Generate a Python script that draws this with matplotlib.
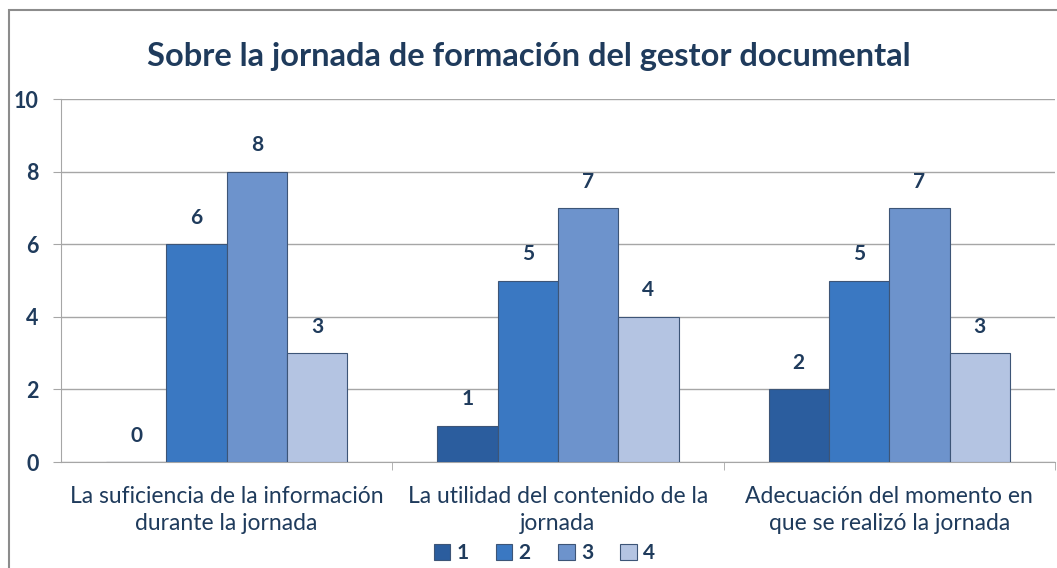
import numpy as np
import matplotlib.pyplot as plt
from matplotlib.patches import Rectangle

plt.rcParams['font.family'] = ['Lato', 'DejaVu Sans']

# Data
categories = ['La suficiencia de la información\ndurante la jornada',
              'La utilidad del contenido de la\njornada',
              'Adecuación del momento en\nque se realizó la jornada']
series_names = ['1', '2', '3', '4']
s1 = [0, 1, 2]
s2 = [6, 5, 5]
s3 = [8, 7, 7]
s4 = [3, 4, 3]
colors = ['#2b5d9e', '#3a78c2', '#6d93cc', '#b4c4e2']
text_color = '#1f3b5c'

fig = plt.figure(figsize=(10.57, 5.68), dpi=100)
ax = fig.add_axes([0.0577, 0.1866, 0.9403, 0.639])

# chart border
fig.patches.append(Rectangle((9 / 1057, -0.01), 1.1, 1 - 10 / 568 + 0.01,
                             transform=fig.transFigure, fill=False,
                             edgecolor='#8c8c8c', linewidth=1.5))

x = np.arange(len(categories))
w = 0.182
for i, vals in enumerate([s1, s2, s3, s4]):
    pos = x + (i - 1.5) * w
    bars = ax.bar(pos, vals, w, color=colors[i], edgecolor='#3d5577',
                  linewidth=0.8, label=series_names[i], zorder=3)
    for b, v in zip(bars, vals):
        ax.text(b.get_x() + b.get_width() / 2, v + 0.45, str(v),
                ha='center', va='bottom', fontsize=15, fontweight='bold',
                color=text_color)

ax.set_xlim(-0.5, 2.5)
ax.set_ylim(0, 10)
ax.set_yticks(range(0, 11, 2))
ax.yaxis.grid(True, color='#a6a6a6', linewidth=1)
ax.set_axisbelow(True)
ax.set_xticks(x)
ax.set_xticklabels(categories, fontsize=16.5, color=text_color, linespacing=1.35)
ax.set_xticks([0.5, 1.5, 2.5], minor=True)
ax.tick_params(axis='x', which='major', length=0, pad=17)
ax.tick_params(axis='x', which='minor', length=6, color='#a6a6a6')
ax.tick_params(axis='y', length=6, color='#a6a6a6', labelsize=15.5,
               labelcolor=text_color, pad=10)
for lbl in ax.get_yticklabels():
    lbl.set_fontweight('bold')
for side in ['top', 'right']:
    ax.spines[side].set_visible(False)
ax.spines['left'].set_color('#a6a6a6')
ax.spines['bottom'].set_color('#a6a6a6')

fig.text(0.5, 0.9, 'Sobre la jornada de formación del gestor documental',
         ha='center', va='center', fontsize=23.5, fontweight='bold',
         color=text_color)

fig.legend(loc='lower center', bbox_to_anchor=(0.515, -0.025), ncol=4,
           frameon=False, handlelength=0.8, handleheight=0.8,
           columnspacing=1.3, handletextpad=0.3, labelcolor=text_color,
           prop={'weight': 'bold', 'size': 15})

fig.savefig('out.png', dpi=100)
